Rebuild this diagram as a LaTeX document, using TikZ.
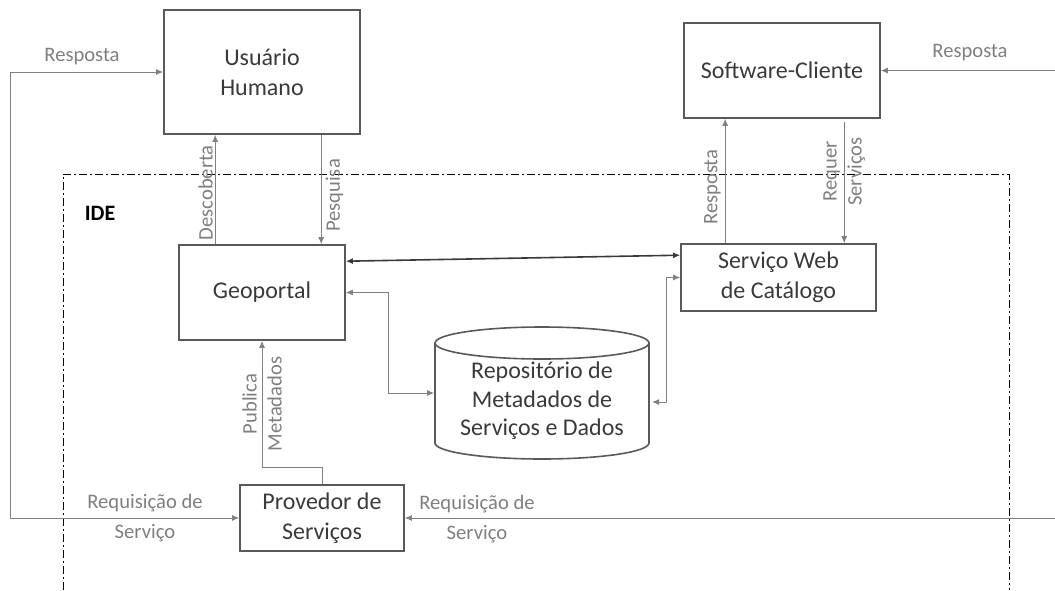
\documentclass[tikz,border=0pt]{standalone}
\usepackage{fontspec}
\setmainfont{Carlito}
\usetikzlibrary{calc,positioning,arrows.meta}

\definecolor{boxline}{HTML}{595959}
\definecolor{boxtext}{HTML}{3A3A3A}
\definecolor{linkgray}{HTML}{808080}
\definecolor{labelgray}{HTML}{7F7F7F}

\begin{document}
\begin{tikzpicture}[x=0.5pt,y=-0.5pt,>={Latex[length=3.5pt,width=3pt]},
		box/.style={draw=boxline,line width=0.8pt,text=boxtext,align=center,font=\fontsize{12}{15}\selectfont},
		link/.style={draw=linkgray,line width=0.5pt},
		lbl/.style={text=labelgray,align=center,font=\fontsize{10.3}{12.5}\selectfont,inner sep=2pt}]
		\useasboundingbox (0,0) rectangle (1055,590);

		% moldura da IDE
		\draw[line width=0.5pt,dash pattern=on 4pt off 1.5pt on 1pt off 1.5pt] (63,590) -- (63,174) -- (1009,174) -- (1009,590);
		\node[font=\fontsize{11}{12}\selectfont\bfseries] (ide) at (100,213) {IDE};

		\node[box,minimum width=98pt,minimum height=62pt] (user) at (262,72) {Usuário\\Humano};
		\node[box,minimum width=98pt,minimum height=47.5pt] (soft) at (782,70.5) {Software-Cliente};
		\node[box,minimum width=83pt,minimum height=47.5pt] (geo) at (262,292.5) {Geoportal};
		\node[box,minimum width=97.5pt,minimum height=33.5pt] (cat) at (778.5,277.5) {Serviço Web\\de Catálogo};
		\node[box,minimum width=82pt,minimum height=33pt] (prov) at (322,518) {Provedor de\\Serviços};
		\node[box,draw=none,minimum width=107pt,minimum height=66pt,font=\fontsize{12}{14.3}\selectfont] (repo) at (542,401) {Repositório de\\Metadados de\\Serviços e Dados};

		% cilindro do repositorio
		\draw[boxline,line width=0.8pt] (542,343) ellipse [x radius=53.5pt,y radius=8pt];
		\draw[boxline,line width=0.8pt] (435,343) -- (435,443)
			arc[start angle=180,end angle=360,x radius=53.5pt,y radius=8pt] -- (649,343);

		\coordinate (lft) at (10,0);
		\coordinate (rgt) at (1055,0);
		\coordinate (d1) at ([xshift=18.5pt]geo.north west);
		\coordinate (p1) at ([xshift=79pt]user.south west);
		\coordinate (r1) at ([xshift=22.5pt]cat.north west);
		\coordinate (q1) at ([xshift=80.5pt]soft.south west);

		\draw[link,<->] (user.west) -- (user.west -| lft) -- (prov.west -| lft) -- (prov.west);
		\node[lbl] (resp1) at (82,57) {Resposta};
		\node[lbl] (req1) at (145,518) {Requisição de\\[2.5pt]Serviço};

		\draw[link,->] (d1) -- node[lbl,pos=0.47,above,rotate=90,yshift=-1pt] {Descoberta} (d1 |- user.south);
		\draw[link,->] (p1) -- node[lbl,midway,below,rotate=90,xshift=-3pt] {Pesquisa} (p1 |- geo.north);

		\draw[draw=boxtext,line width=0.8pt,<->] ([yshift=-8.5pt]geo.north east) -- ([yshift=-6pt]cat.north west);
		\draw[link,<->] (geo.east) -- ++(43,0) |- (repo.west |- 0,393);
		\draw[link,<->,shorten <=1.5pt] (649,402) -- ++(17,0) |- (cat.west);

		\draw[link,->] (r1) -- node[lbl,pos=0.45,above,rotate=90] {Resposta} (r1 |- soft.south);
		\draw[link,->] ([yshift=-1.5pt]q1) -- node[lbl,pos=0.41,rotate=90] {Requer\\Serviços} (q1 |- cat.north);

		\draw[link,->] (soft.east -| rgt) -- (soft.east);
		\node[lbl] (resp2) at (970,53) {Resposta};

		\draw[link,->] (prov.east -| rgt) -- (prov.east);
		\node[lbl] (req2) at (477,519) {Requisição de\\[2.5pt]Serviço};

		\draw[link,->] (prov.north) -- ++(0,-17) -| node[lbl,pos=0.75,rotate=90] {Publica\\Metadados} (geo.south);
	\end{tikzpicture}
\end{document}
